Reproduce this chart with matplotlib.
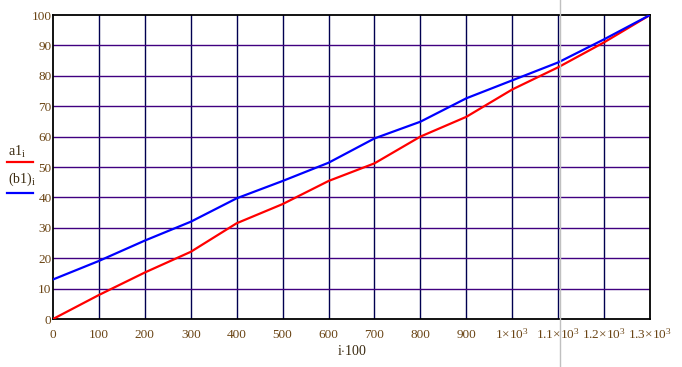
import numpy as np
import matplotlib.pyplot as plt
from matplotlib.lines import Line2D

plt.rcParams['font.family'] = ['Liberation Serif', 'DejaVu Serif']
plt.rcParams['mathtext.fontset'] = 'custom'
plt.rcParams['mathtext.rm'] = 'Liberation Serif'
plt.rcParams['mathtext.it'] = 'Liberation Serif'

# i*100
x_vals = [0, 100, 200, 300, 400, 500, 600, 700, 800, 900, 1000, 1100, 1200, 1300]
a1 = [0, 7.9, 15.3, 22.1, 31.5, 37.8, 45.4, 51.2, 60.0, 66.5, 75.5, 82.8, 91.0, 100]
b1 = [13.0, 19.1, 25.8, 32.0, 39.7, 45.4, 51.4, 59.4, 64.9, 72.6, 78.5, 84.4, 92.0, 100]

x_ticks = [0, 100, 200, 300, 400, 500, 600, 700, 800, 900, 1000, 1100, 1200, 1300]
x_labels = ['0', '100', '200', '300', '400', '500', '600', '700', '800', '900',
            r'$\mathrm{1{\times}10^{3}}$', r'$\mathrm{1.1{\times}10^{3}}$',
            r'$\mathrm{1.2{\times}10^{3}}$', r'$\mathrm{1.3{\times}10^{3}}$']
y_ticks = [0, 10, 20, 30, 40, 50, 60, 70, 80, 90, 100]

tick_col = '#6a4414'

fig = plt.figure(figsize=(6.82, 3.67), dpi=100)
ax = fig.add_axes([53/682, 48/367, 597/682, 304/367])

for xv in x_ticks[1:-1]:
    ax.axvline(xv, color='#000050', lw=1.0, zorder=1)
for yv in y_ticks[1:-1]:
    ax.axhline(yv, color='#400080', lw=1.0, zorder=1)

ax.plot(x_vals, a1, color='#ff0000', lw=1.6, zorder=3)
ax.plot(x_vals, b1, color='#0000ff', lw=1.6, zorder=3)

ax.set_xlim(0, 1300)
ax.set_ylim(0, 100)
ax.set_xticks(x_ticks)
ax.set_xticklabels(x_labels)
ax.set_yticks(y_ticks)
ax.tick_params(axis='both', length=0, labelsize=9.5, labelcolor=tick_col)
ax.tick_params(axis='x', pad=14)
ax.tick_params(axis='y', pad=1)
for lab in ax.get_xticklabels():
    lab.set_va('baseline')
for s in ax.spines.values():
    s.set_color('black')
    s.set_linewidth(1.3)

ax.set_xlabel(r'$\mathrm{i{\cdot}100}$', fontsize=10, color='#3a2a10', labelpad=2)

# legend on the left
fig.text(8/682, 1 - 152/367, r'$\mathrm{a1_{i}}$', fontsize=10, color='#3a2a10', va='center')
fig.add_artist(Line2D([7/682, 33/682], [1 - 162.5/367, 1 - 162.5/367], color='#ff0000', lw=1.6))
fig.text(8/682, 1 - 179/367, r'$\mathrm{(b1)_{i}}$', fontsize=10, color='#3a2a10', va='center')
fig.add_artist(Line2D([7/682, 33/682], [1 - 192.5/367, 1 - 192.5/367], color='#0000ff', lw=1.6))

# gray cursor line
fig.add_artist(Line2D([559.5/682, 559.5/682], [0, 1], color='#c0c0c0', lw=1.0))

fig.savefig('out.png', dpi=100)
